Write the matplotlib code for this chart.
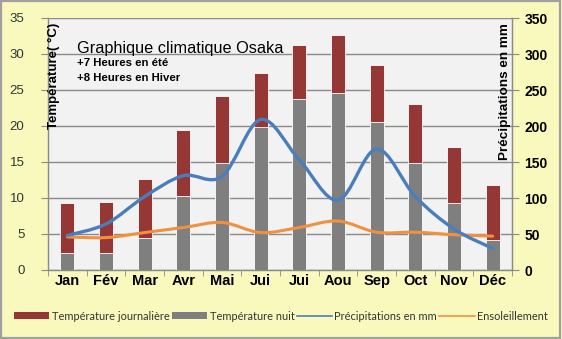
import matplotlib
matplotlib.use("Agg")
import matplotlib.pyplot as plt
import numpy as np
from matplotlib.path import Path
from matplotlib.patches import PathPatch, Patch, Rectangle
from matplotlib.lines import Line2D

months = ["Jan", "Fév", "Mar", "Avr", "Mai", "Jui", "Jui", "Aou", "Sep", "Oct", "Nov", "Déc"]
temp_day = [9.3, 9.5, 12.6, 19.5, 24.2, 27.4, 31.3, 32.6, 28.5, 23.0, 17.1, 11.8]
temp_night = [2.3, 2.3, 4.5, 10.3, 14.8, 19.8, 23.7, 24.6, 20.6, 14.8, 9.3, 4.1]
precip_mm = [48, 64, 102, 131, 130, 209, 153, 97, 168, 102, 57, 30]
sunshine = [4.6, 4.5, 5.2, 5.9, 6.6, 5.2, 5.9, 6.8, 5.25, 5.25, 4.9, 4.7]

BG = "#f9f8bd"
PANEL = "#f2f2f2"
RED = "#953735"
GRAY = "#7f7f7f"
BLUE = "#4a7ebb"
ORANGE = "#f0913f"
GRID = "#8a8a8a"

plt.rcParams["font.family"] = ["Liberation Sans", "DejaVu Sans"]


def smooth_path(xs, ys):
    """Bezier path through the points (Catmull-Rom style smoothing)."""
    pts = np.column_stack([xs, ys]).astype(float)
    n = len(pts)
    verts = [tuple(pts[0])]
    codes = [Path.MOVETO]
    for i in range(n - 1):
        p_prev = pts[i - 1] if i > 0 else pts[i]
        p_next = pts[i + 2] if i + 2 < n else pts[i + 1]
        c1 = pts[i] + (pts[i + 1] - p_prev) / 6.0
        c2 = pts[i + 1] - (p_next - pts[i]) / 6.0
        verts += [tuple(c1), tuple(c2), tuple(pts[i + 1])]
        codes += [Path.CURVE4] * 3
    return Path(verts, codes)


fig = plt.figure(figsize=(5.62, 3.39), dpi=100, facecolor=BG)
fig.patches.append(Rectangle((0.002, 0.003), 0.995, 0.994, transform=fig.transFigure,
                             fill=False, edgecolor="#a0a0a0", linewidth=1.6))

ax = fig.add_axes([48 / 562, 69 / 339, 464 / 562, 252 / 339])
ax.set_facecolor(PANEL)
x = np.arange(len(months))

ax.set_ylim(0, 35)
ax.set_xlim(-0.5, len(months) - 0.5)
ax.set_yticks(np.arange(0, 36, 5))
ax.yaxis.grid(True, color=GRID, linewidth=1.0)
ax.set_axisbelow(True)

bw = 0.37
ax.bar(x, temp_day, width=bw, color=RED, edgecolor="white", linewidth=0.6, zorder=2)
ax.bar(x, temp_night, width=bw, color=GRAY, edgecolor="white", linewidth=0.6, zorder=3)

ax.add_patch(PathPatch(smooth_path(x, sunshine), fill=False, edgecolor=ORANGE,
                       linewidth=2.2, zorder=4, capstyle="round"))

ax.spines["top"].set_visible(False)
for s in ["left", "bottom", "right"]:
    ax.spines[s].set_color(GRID)
    ax.spines[s].set_linewidth(1.0)

ax.set_xticks(x)
ax.set_xticklabels(months, fontsize=10.5, fontweight="bold", color="black")
ax.tick_params(axis="x", length=0, pad=3)
ax.set_xticks(np.arange(-0.5, len(months), 1), minor=True)
ax.tick_params(axis="x", which="minor", length=4, color=GRID, direction="out")
ax.tick_params(axis="y", length=5, color=GRID, labelsize=9.5, labelcolor="#2a3b2e", pad=12)

ax2 = ax.twinx()
ax2.set_ylim(0, 350)
ax2.set_yticks(np.arange(0, 351, 50))
ax2.tick_params(axis="y", length=5, color=GRID, labelsize=10, pad=4)
for lbl in ax2.get_yticklabels():
    lbl.set_fontweight("bold")
for s in ["top", "left", "bottom"]:
    ax2.spines[s].set_visible(False)
ax2.spines["right"].set_color(GRID)
ax2.add_patch(PathPatch(smooth_path(x, precip_mm), fill=False, edgecolor=BLUE,
                        linewidth=2.4, zorder=5, capstyle="round"))

ax.text(0.012, 0.77, "Température( °C)", transform=ax.transAxes, rotation=90,
        ha="center", va="center", fontsize=9.5, fontweight="bold")
ax2.text(0.985, 0.71, "Précipitations en mm", transform=ax.transAxes, rotation=90,
         ha="center", va="center", fontsize=9.7, fontweight="bold")

fig.text(77 / 562, 1 - 48 / 339, "Graphique climatique Osaka", fontsize=11.7,
         ha="left", va="center")
fig.text(77 / 562, 1 - 63 / 339, "+7 Heures en été", fontsize=8.2, fontweight="bold",
         ha="left", va="center")
fig.text(77 / 562, 1 - 78 / 339, "+8 Heures en Hiver", fontsize=8.2, fontweight="bold",
         ha="left", va="center")

handles = [
    Patch(facecolor=RED, edgecolor="none"),
    Patch(facecolor=GRAY, edgecolor="none"),
    Line2D([], [], color=BLUE, linewidth=1.2),
    Line2D([], [], color=ORANGE, linewidth=1.2),
]
labels = ["Température journalière", "Température nuit", "Précipitations en mm", "Ensoleillement"]
leg = fig.legend(handles, labels, loc="center", bbox_to_anchor=(0.5, 1 - 316 / 339),
                 ncol=4, frameon=False, handlelength=3.2, handleheight=0.6,
                 handletextpad=0.25, columnspacing=0.2,
                 prop={"family": ["Lato", "DejaVu Sans"], "size": 7.9})
for t in leg.get_texts():
    t.set_color("#333333")

fig.savefig("out.png", dpi=100, facecolor=BG)
